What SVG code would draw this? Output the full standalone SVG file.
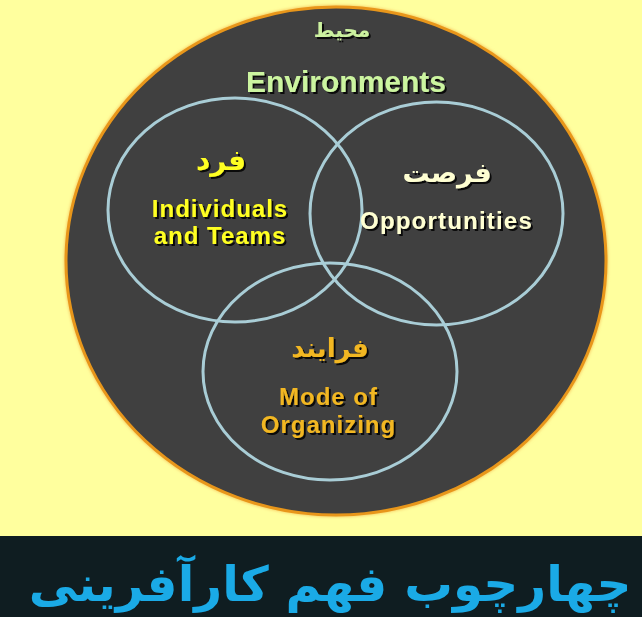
<svg xmlns="http://www.w3.org/2000/svg" width="642" height="617" viewBox="0 0 642 617">
  <defs>
    <filter id="sh" x="-20%" y="-30%" width="140%" height="160%">
      <feDropShadow dx="2" dy="2" stdDeviation="0.6" flood-color="#000" flood-opacity="0.85"/>
    </filter>
    <filter id="glow" x="-10%" y="-10%" width="120%" height="120%">
      <feGaussianBlur stdDeviation="1.5"/>
    </filter>
  </defs>
  <style>
    .ring { fill: none; stroke: #A9CDD6; stroke-width: 3; }
    .en { font-family: "Liberation Sans", Arial, sans-serif; font-weight: bold; text-anchor: middle; filter: url(#sh); }
    .fa { font-family: "DejaVu Sans", "Noto Sans", sans-serif; font-weight: bold; text-anchor: middle; filter: url(#sh); }
  </style>
  <rect x="0" y="0" width="642" height="617" fill="#FFFF9E"/>
  <g id="environment">
    <ellipse cx="336" cy="261" rx="272" ry="256" fill="#F6C860" filter="url(#glow)"/>
    <ellipse cx="336" cy="261" rx="270" ry="254" fill="#404040" stroke="#E8961A" stroke-width="3"/>
    <text class="fa" x="342" y="37" font-size="20" fill="#CCF2A0" direction="rtl">محیط</text>
    <text class="en" x="346" y="92" font-size="30" fill="#CCF5A0">Environments</text>
  </g>
  <g id="individuals">
    <ellipse class="ring" cx="235" cy="210" rx="127" ry="112"/>
    <text class="fa" x="221" y="170" font-size="28" fill="#FFFF22" direction="rtl">فرد</text>
    <text class="en" x="220" y="217" font-size="24" letter-spacing="1" fill="#FFFF22">Individuals</text>
    <text class="en" x="220" y="244" font-size="24" letter-spacing="1" fill="#FFFF22">and Teams</text>
  </g>
  <g id="opportunities">
    <ellipse class="ring" cx="436.5" cy="213.5" rx="126.5" ry="111.5"/>
    <text class="fa" x="447" y="182" font-size="27" fill="#FFFFD2" direction="rtl">فرصت</text>
    <text class="en" x="446.5" y="229" font-size="24" letter-spacing="1.2" fill="#FFFFD2">Opportunities</text>
  </g>
  <g id="organizing">
    <ellipse class="ring" cx="330" cy="371.5" rx="127" ry="108.5"/>
    <text class="fa" x="330" y="357" font-size="26" fill="#F2B722" direction="rtl">فرایند</text>
    <text class="en" x="328.5" y="405" font-size="24" letter-spacing="1" fill="#F2B722">Mode of</text>
    <text class="en" x="328.5" y="433" font-size="24" letter-spacing="1" fill="#F2B722">Organizing</text>
  </g>
  <g id="connectors"></g>
  <g id="title">
    <rect x="0" y="536" width="642" height="81" fill="#0F1D21"/>
    <text x="330" y="601" font-family="DejaVu Sans, sans-serif" font-weight="bold" font-size="48.5" fill="#1AAAE6" text-anchor="middle" direction="rtl">چهارچوب فهم کارآفرینی</text>
  </g>
</svg>
